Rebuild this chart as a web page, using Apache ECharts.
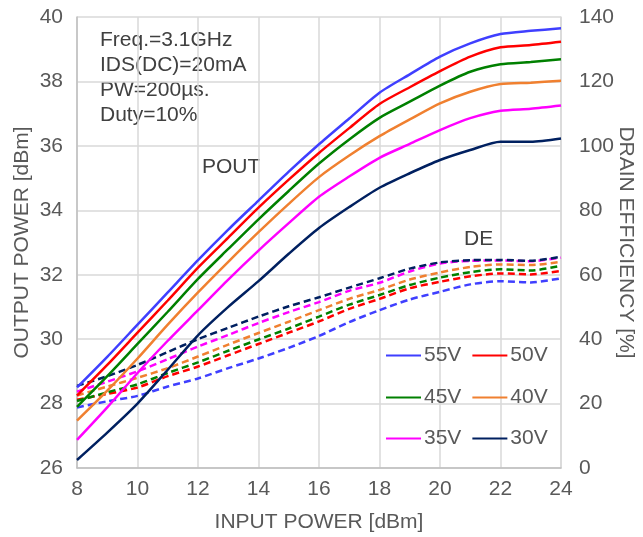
<!DOCTYPE html>
<html>
<head>
<meta charset="utf-8">
<script src="https://cdn.jsdelivr.net/npm/echarts@6/dist/echarts.min.js"></script>
<style>
html,body{margin:0;padding:0;background:#fff;}
#c{width:643px;height:537px;}
</style>
</head>
<body>
<div id="c"></div>
<script>
// Input power (dBm)
const pin = [8,9,10,11,12,13,14,15,16,17,18,19,20,21,22,23,24];
const voltages = ['55V','50V','45V','40V','35V','30V'];
// Output power (dBm)
const pout55 = [28.5,29.45,30.45,31.45,32.45,33.4,34.3,35.2,36.05,36.85,37.65,38.22,38.77,39.18,39.47,39.57,39.65];
const pout50 = [28.25,29.2,30.2,31.2,32.22,33.15,34.08,34.95,35.78,36.55,37.3,37.82,38.32,38.77,39.06,39.13,39.23];
const pout45 = [27.9,28.85,29.85,30.85,31.87,32.8,33.72,34.6,35.45,36.2,36.87,37.37,37.87,38.3,38.53,38.6,38.69];
const pout40 = [27.47,28.4,29.4,30.45,31.45,32.4,33.32,34.2,35.03,35.7,36.3,36.82,37.32,37.68,37.92,37.96,38.02];
const pout35 = [26.87,27.88,28.95,29.95,30.9,31.85,32.75,33.6,34.42,35.05,35.63,36.06,36.49,36.86,37.09,37.15,37.25];
const pout30 = [26.25,27.1,28.0,29.05,30.12,31.0,31.8,32.65,33.45,34.1,34.7,35.15,35.56,35.87,36.13,36.13,36.23];
// Drain efficiency (%)
const de55 = [18.8,20.7,22.4,25.3,27.8,31.0,34.0,37.3,41.0,45.3,49.0,52.3,54.7,57.0,58.0,57.6,58.9];
const de50 = [21.2,23.0,25.0,28.5,31.5,35.0,38.5,42.0,45.5,49.4,52.5,55.8,57.8,59.5,60.4,60.1,61.2];
const de45 = [20.8,23.5,26.0,29.5,32.8,36.4,39.9,43.3,47.0,50.7,53.7,56.8,59.1,60.8,61.7,61.3,62.8];
const de40 = [22.5,25.3,28.0,31.0,34.6,38.3,41.9,45.4,49.0,52.5,55.3,58.5,60.7,62.4,63.2,63.0,64.0];
const de35 = [23.7,26.8,30.0,33.8,37.7,41.3,45.0,48.4,51.5,55.0,57.5,61.0,63.5,64.3,64.4,64.2,65.3];
const de30 = [25.5,28.5,32.0,36.0,40.0,43.5,47.0,50.2,53.0,56.0,58.9,61.9,63.8,64.5,64.6,64.3,65.6];
const leftTicks = {min:26, max:40, interval:2};
const rightTicks = {min:0, max:140, interval:20};
const xTicks = {min:8, max:24, interval:2};
const notes = ['Freq.=3.1GHz','IDS(DC)=20mA','PW=200\u00b5s.','Duty=10%'];

const colors = ['#3F3FFF','#FF0000','#008000','#F08030','#FF00FF','#002060'];
const poutSets = [pout55,pout50,pout45,pout40,pout35,pout30];
const deSets = [de55,de50,de45,de40,de35,de30];
const pair = arr => pin.map((x,i)=>[x,arr[i]]);

const FONT = 'Liberation Sans, Arial, sans-serif';
const GRAY = '#595959';

const series = [];
voltages.forEach((v,i)=>{
  series.push({name:v,type:'line',yAxisIndex:0,data:pair(poutSets[i]),symbol:'none',smooth:0.25,
    lineStyle:{color:colors[i],width:2.5},itemStyle:{color:colors[i]},z:3});
});
voltages.forEach((v,i)=>{
  series.push({name:v+' DE',type:'line',yAxisIndex:1,data:pair(deSets[i]),symbol:'none',smooth:0.25,
    lineStyle:{color:colors[i],width:2.5,type:[7,4]},itemStyle:{color:colors[i]},z:2});
});

const legendRow = (names, top) => ({
  data:names, left:386, top:top, padding:0, itemGap:11, itemWidth:35, itemHeight:14,
  selectedMode:false, icon:'path://M0,6 L35,6 L35,8 L0,8 Z',
  textStyle:{fontFamily:FONT,fontSize:21,color:GRAY,padding:[0,0,0,-2]}
});

const chart = echarts.init(document.getElementById('c'));
chart.setOption({
  animation:false,
  color:colors,
  grid:{left:77,right:82,top:17,bottom:69,containLabel:false,outerBoundsMode:'none'},
  xAxis:{type:'value',min:xTicks.min,max:xTicks.max,interval:xTicks.interval,
    name:'INPUT POWER [dBm]',nameLocation:'middle',nameGap:44,nameMoveOverlap:false,
    nameTextStyle:{fontFamily:FONT,fontSize:21,color:GRAY},
    axisLine:{show:true,lineStyle:{color:'#bfbfbf',width:1.5}},axisTick:{show:false},
    axisLabel:{fontFamily:FONT,fontSize:21,color:GRAY,margin:11},
    splitLine:{show:true,lineStyle:{color:'#d9d9d9',width:1.5}}},
  yAxis:[
    {type:'value',min:leftTicks.min,max:leftTicks.max,interval:leftTicks.interval,position:'left',
     name:'OUTPUT POWER [dBm]',nameLocation:'middle',nameGap:44,nameRotate:90,nameMoveOverlap:false,
     nameTextStyle:{fontFamily:FONT,fontSize:21,color:GRAY},
     axisLine:{show:true,lineStyle:{color:'#bfbfbf',width:1.5}},axisTick:{show:false},
     axisLabel:{fontFamily:FONT,fontSize:21,color:GRAY,margin:14},
     splitLine:{show:true,lineStyle:{color:'#d9d9d9',width:1.5}}},
    {type:'value',min:rightTicks.min,max:rightTicks.max,interval:rightTicks.interval,position:'right',
     name:'DRAIN EFFICIENCY [%]',nameLocation:'middle',nameGap:54,nameRotate:-90,nameMoveOverlap:false,
     nameTextStyle:{fontFamily:FONT,fontSize:21,color:GRAY},
     axisLine:{show:true,lineStyle:{color:'#d9d9d9',width:1.5}},axisTick:{show:false},
     axisLabel:{fontFamily:FONT,fontSize:21,color:GRAY,margin:18},
     splitLine:{show:false}}
  ],
  legend:[legendRow(['55V','50V'],345),legendRow(['45V','40V'],387),legendRow(['35V','30V'],428)],
  graphic:[
    {type:'text',left:100,top:28,style:{text:notes.join('\n'),font:'21px '+FONT,fill:'#404040',lineHeight:25}},
    {type:'text',left:202,top:157,style:{text:'POUT',font:'21px '+FONT,fill:'#404040'}},
    {type:'text',left:464,top:229,style:{text:'DE',font:'21px '+FONT,fill:'#404040'}}
  ],
  series:series
});
</script>
</body>
</html>
